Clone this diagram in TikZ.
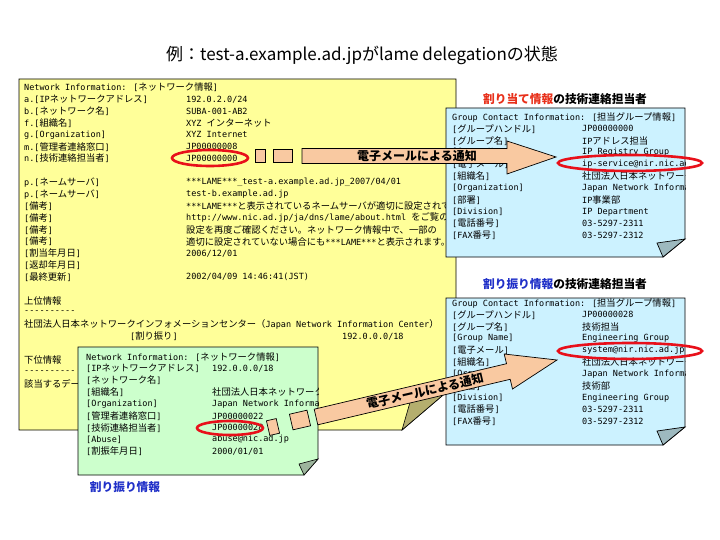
\documentclass[tikz,border=0pt]{standalone}
\usepackage{fontspec}
\setmainfont{Noto Sans CJK JP}
\newfontfamily\cjkfam{Noto Sans CJK JP}
\newfontfamily\monofam{DejaVu Sans Mono}
\newcommand{\cjkf}{\fontsize{9.3}{11}\cjkfam}
\newcommand{\monof}{\fontsize{8.5}{11}\monofam}
\newcommand{\boxfont}{\monof\XeTeXinterchartokenstate=1\relax}
\newXeTeXintercharclass\cjkcls
\newcount\mycnt
\mycnt="3000
\loop\XeTeXcharclass\mycnt=\cjkcls\ifnum\mycnt<"30FF\advance\mycnt 1\repeat
\mycnt="4E00
\loop\XeTeXcharclass\mycnt=\cjkcls\ifnum\mycnt<"9FFF\advance\mycnt 1\repeat
\mycnt="FF00
\loop\XeTeXcharclass\mycnt=\cjkcls\ifnum\mycnt<"FFEF\advance\mycnt 1\repeat
\XeTeXinterchartoks 0 \cjkcls = {\cjkf}
\XeTeXinterchartoks 4095 \cjkcls = {\cjkf}
\XeTeXinterchartoks \cjkcls 0 = {\monof}
\XeTeXinterchartoks 4095 0 = {\monof}
\definecolor{yel}{HTML}{FFFF99}
\definecolor{blu}{HTML}{CCF2FF}
\definecolor{grn}{HTML}{CCFFCC}
\definecolor{peachc}{HTML}{F9C9A1}
\definecolor{ringred}{HTML}{E8101A}
\definecolor{titred}{HTML}{E8301A}
\definecolor{titblue}{HTML}{2030C8}
\definecolor{olive}{HTML}{B4AE6E}
\definecolor{flapc}{HTML}{9DB9BF}
\definecolor{gflap}{HTML}{9DB59D}
\newcommand{\YL}[2]{\node[txt] (yl#1) at (24,{87.5+11.85*(#1)}) {#2};}
\newcommand{\YV}[2]{\node[txt] (yv#1) at (186,{87.5+11.85*(#1)}) {#2};}
\newcommand{\GL}[2]{\node[txt] (gl#1) at (86,{357+11.8*(#1)}) {#2};}
\newcommand{\GV}[2]{\node[txt] (gv#1) at (212,{357+11.8*(#1)}) {#2};}
\newcommand{\BL}[4]{\node[txt] (b#1l#3) at (452,{#2+11.85*(#3)}) {#4};}
\newcommand{\BV}[4]{\node[txt] (b#1v#3) at (582,{#2+11.85*(#3)}) {#4};}
\begin{document}
\begin{tikzpicture}[x=1pt,y=-1pt,
  txt/.style={anchor=west,inner sep=0pt,font=\boxfont},
  box/.style={draw=black,line width=0.8pt},
  peach/.style={fill=peachc,draw=black,line width=0.7pt},
  ring/.style={draw=ringred,line width=2.6pt},
  hdr/.style={inner sep=0pt,font=\fontsize{11.7}{13}\selectfont\bfseries}]
\fill[white] (0,0) rectangle (720,540);
\useasboundingbox (0,0) rectangle (720,540);
% title
\node[font=\fontsize{17}{20}\selectfont] (title) at (362,55) {例：test-a.example.ad.jpがlame delegationの状態};
% yellow box
\fill[yel] (19,79) -- (456,79) -- (456,384) -- (402,430) -- (19,430) -- cycle;
\begin{scope}
\clip (19,79) -- (456,79) -- (456,384) -- (402,430) -- (19,430) -- cycle;
\YL{0}{Network Information: [ネットワーク情報]}
\YL{1}{a.[IPネットワークアドレス]}\YV{1}{192.0.2.0/24}
\YL{2}{b.[ネットワーク名]}\YV{2}{SUBA-001-AB2}
\YL{3}{f.[組織名]}\YV{3}{XYZ インターネット}
\YL{4}{g.[Organization]}\YV{4}{XYZ Internet}
\YL{5}{m.[管理者連絡窓口]}\YV{5}{JP00000008}
\YL{6}{n.[技術連絡担当者]}\YV{6}{JP00000000}
\YL{8}{p.[ネームサーバ]}\YV{8}{***LAME***\_test-a.example.ad.jp\_2007/04/01}
\YL{9}{p.[ネームサーバ]}\YV{9}{test-b.example.ad.jp}
\YL{10}{[備考]}\YV{10}{***LAME***と表示されているネームサーバが適切に設定されていません。}
\YL{11}{[備考]}\YV{11}{http://www.nic.ad.jp/ja/dns/lame/about.html をご覧の上、}
\YL{12}{[備考]}\YV{12}{設定を再度ご確認ください。ネットワーク情報中で、一部の}
\YL{13}{[備考]}\YV{13}{適切に設定されていない場合にも***LAME***と表示されます。}
\YL{14}{[割当年月日]}\YV{14}{2006/12/01}
\YL{15}{[返却年月日]}
\YL{16}{[最終更新]}\YV{16}{2002/04/09 14:46:41(JST)}
\YL{18}{上位情報}
\YL{19}{----------}
\YL{20}{社団法人日本ネットワークインフォメーションセンター（Japan Network Information Center）}
\node[txt] (yw21) at (130,{87.5+11.85*21}) {[割り振り]};
\node[txt] (yx21) at (342,{87.5+11.85*21}) {192.0.0.0/18};
\YL{23}{下位情報}
\YL{24}{----------}
\YL{25}{該当するデータはありません。}
\end{scope}
\draw[box] (19,79) -- (456,79) -- (456,384) -- (402,430) -- (19,430) -- cycle;
\draw[fill=olive,draw=black,line width=0.6pt] (456,384) -- (413,392) -- (402,430) -- cycle;
% green box
\fill[grn] (78,347) -- (318,347) -- (318,459) -- (304,475) -- (78,475) -- cycle;
\begin{scope}
\clip (78,347) -- (318,347) -- (318,459) -- (304,475) -- (78,475) -- cycle;
\GL{0}{Network Information: [ネットワーク情報]}
\GL{1}{[IPネットワークアドレス]}\GV{1}{192.0.0.0/18}
\GL{2}{[ネットワーク名]}
\GL{3}{[組織名]}\GV{3}{社団法人日本ネットワークインフォメーションセンター}
\GL{4}{[Organization]}\GV{4}{Japan Network Information Center}
\GL{5}{[管理者連絡窓口]}\GV{5}{JP00000022}
\GL{6}{[技術連絡担当者]}\GV{6}{JP00000028}
\GL{7}{[Abuse]}\GV{7}{abuse@nic.ad.jp}
\GL{8}{[割振年月日]}\GV{8}{2000/01/01}
\end{scope}
\draw[box] (78,347) -- (318,347) -- (318,459) -- (304,475) -- (78,475) -- cycle;
\draw[fill=gflap,draw=black,line width=0.6pt] (318,459) -- (299,464) -- (304,475) -- cycle;
% blue box 1
\fill[blu] (446,108) -- (685,108) -- (685,239) -- (663,257) -- (446,257) -- cycle;
\begin{scope}
\clip (446,108) -- (685,108) -- (685,239) -- (663,257) -- (446,257) -- cycle;
\BL{a}{117}{0}{Group Contact Information: [担当グループ情報]}
\BL{a}{117}{1}{[グループハンドル]}\BV{a}{117}{1}{JP00000000}
\BL{a}{117}{2}{[グループ名]}\BV{a}{117}{2}{IPアドレス担当}
\BL{a}{117}{3}{[Group Name]}\BV{a}{117}{3}{IP Registry Group}
\BL{a}{117}{4}{[電子メール]}\BV{a}{117}{4}{ip-service@nir.nic.ad.jp}
\BL{a}{117}{5}{[組織名]}\BV{a}{117}{5}{社団法人日本ネットワークインフォメーションセンター}
\BL{a}{117}{6}{[Organization]}\BV{a}{117}{6}{Japan Network Information Center}
\BL{a}{117}{7}{[部署]}\BV{a}{117}{7}{IP事業部}
\BL{a}{117}{8}{[Division]}\BV{a}{117}{8}{IP Department}
\BL{a}{117}{9}{[電話番号]}\BV{a}{117}{9}{03-5297-2311}
\BL{a}{117}{10}{[FAX番号]}\BV{a}{117}{10}{03-5297-2312}
\end{scope}
\draw[box] (446,108) -- (685,108) -- (685,239) -- (663,257) -- (446,257) -- cycle;
\draw[fill=flapc,draw=black,line width=0.7pt] (685,239) -- (657,243) -- (663,257) -- cycle;
% blue box 2
\fill[blu] (446,298) -- (685,298) -- (685,427) -- (663,445) -- (446,445) -- cycle;
\begin{scope}
\clip (446,298) -- (685,298) -- (685,427) -- (663,445) -- (446,445) -- cycle;
\BL{b}{303}{0}{Group Contact Information: [担当グループ情報]}
\BL{b}{303}{1}{[グループハンドル]}\BV{b}{303}{1}{JP00000028}
\BL{b}{303}{2}{[グループ名]}\BV{b}{303}{2}{技術担当}
\BL{b}{303}{3}{[Group Name]}\BV{b}{303}{3}{Engineering Group}
\BL{b}{303}{4}{[電子メール]}\BV{b}{303}{4}{system@nir.nic.ad.jp}
\BL{b}{303}{5}{[組織名]}\BV{b}{303}{5}{社団法人日本ネットワークインフォメーションセンター}
\BL{b}{303}{6}{[Organization]}\BV{b}{303}{6}{Japan Network Information Center}
\BL{b}{303}{7}{[部署]}\BV{b}{303}{7}{技術部}
\BL{b}{303}{8}{[Division]}\BV{b}{303}{8}{Engineering Group}
\BL{b}{303}{9}{[電話番号]}\BV{b}{303}{9}{03-5297-2311}
\BL{b}{303}{10}{[FAX番号]}\BV{b}{303}{10}{03-5297-2312}
\end{scope}
\draw[box] (446,298) -- (685,298) -- (685,427) -- (663,445) -- (446,445) -- cycle;
\draw[fill=flapc,draw=black,line width=0.7pt] (685,427) -- (657,431) -- (663,445) -- cycle;
% headings
\node[hdr] (t1) at (565,99) {\textcolor{titred}{割り当て情報}の技術連絡担当者};
\node[hdr] (t2) at (565,284) {\textcolor{titblue}{割り振り情報}の技術連絡担当者};
\node[hdr,text=titblue] (t3) at (125,487) {割り振り情報};
% arrow 1
\draw[peach] (255,149) rectangle (265,162);
\draw[peach] (273,149) rectangle (292,162);
\draw[peach] (302,148.5) -- (507,148.5) -- (507,141) -- (556,157) -- (507,174) -- (507,163.5) -- (302,163.5) -- cycle;
\node[hdr,font=\fontsize{12}{14}\selectfont\bfseries] (m1) at (417,156) {電子メールによる通知};
% arrow 2
\draw[peach,rotate around={13:(273,427)}] (268,419.5) rectangle (278,434.5);
\draw[peach,rotate around={13:(300,420)}] (291,412) rectangle (309,428);
\draw[peach] (314.2,409.2) -- (506.5,363.7) -- (504.2,354.0) -- (557,360) -- (512.5,389.0) -- (510.2,379.3) -- (317.8,424.8) -- cycle;
\node[hdr,font=\fontsize{12}{14}\selectfont\bfseries,rotate=13] (m2) at (425,391) {電子メールによる通知};
% red rings
\draw[ring] (210,158) ellipse [x radius=38, y radius=8];
\draw[ring] (630,163) ellipse [x radius=72, y radius=8];
\draw[ring] (630,351) ellipse [x radius=72, y radius=8];
\draw[ring] (230,428) ellipse [x radius=33, y radius=7];
\end{tikzpicture}
\end{document}
